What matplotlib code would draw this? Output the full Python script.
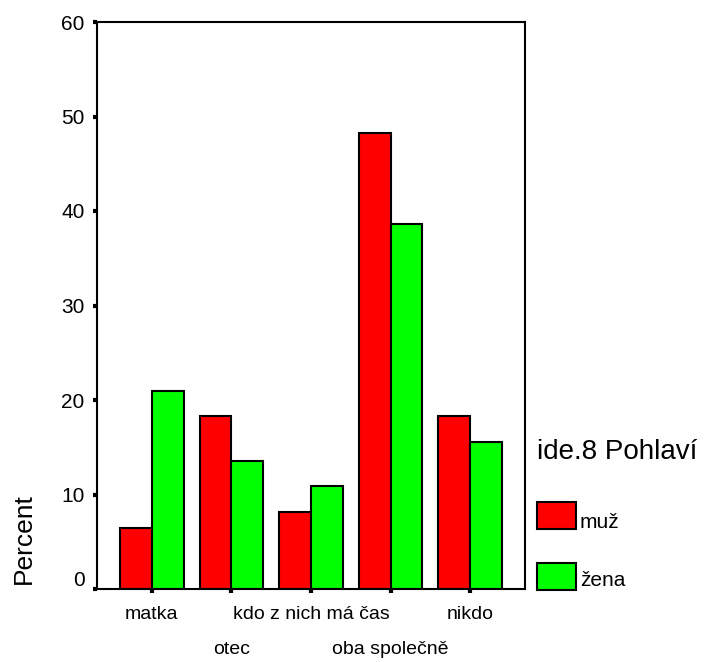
import numpy as np
import matplotlib
matplotlib.use("Agg")
import matplotlib.pyplot as plt
from matplotlib.patches import Rectangle
from matplotlib.transforms import ScaledTranslation

plt.rcParams['font.family'] = ['Liberation Sans', 'DejaVu Sans']

# data
categories = ["matka", "otec", "kdo z nich má čas", "oba společně", "nikdo"]
muz = [6.5, 18.3, 8.2, 48.3, 18.3]
zena = [21.0, 13.5, 10.9, 38.6, 15.6]
series_names = ["muž", "žena"]
series_colors = ["#ff0000", "#00ff00"]
legend_title = "ide.8 Pohlaví"
y_ticks = [0, 10, 20, 30, 40, 50, 60]

W, H = 706, 662
fig = plt.figure(figsize=(W / 100, H / 100), dpi=100)
ax = fig.add_axes([97 / W, 1 - 589 / H, (525 - 97) / W, (589 - 22) / H])

x = np.arange(len(categories))
w = 0.40
ax.bar(x - w, muz, width=w, align='edge', color=series_colors[0], edgecolor='black', linewidth=1.5)
ax.bar(x, zena, width=w, align='edge', color=series_colors[1], edgecolor='black', linewidth=1.5)

ax.set_xlim(-0.69, len(categories) - 1 + 0.69)
ax.set_ylim(0, 60)
ax.set_yticks(y_ticks)
ax.set_yticklabels([str(v) for v in y_ticks], fontsize=15)
ax.set_xticks(x)
ax.set_xticklabels(categories, fontsize=14)

for s in ax.spines.values():
    s.set_linewidth(1.5)
ax.tick_params(axis='both', direction='out', length=3, width=3, color='black')
ax.tick_params(axis='y', pad=6)
ax.tick_params(axis='x', pad=9.5)

# every second category label goes on a second row (offsets in pixels / dpi)
for i, lab in enumerate(ax.get_xticklabels()):
    if i % 2 == 1:
        lab.set_transform(lab.get_transform() + ScaledTranslation(0, -35 / 100, fig.dpi_scale_trans))

# lift the "0" label a little like the original
lab0 = ax.get_yticklabels()[0]
lab0.set_transform(lab0.get_transform() + ScaledTranslation(0, 10 / 100, fig.dpi_scale_trans))

fig.text(24 / W, 1 - 539 / H, "Percent", rotation=90, fontsize=19, ha='center', va='center')

# legend, drawn by hand at the spot of the original
fig.text(537 / W, 1 - 459 / H, legend_title, fontsize=20, ha='left', va='baseline')
box_tops = [502, 563]
text_base = [528, 586]
for name, col, top, base in zip(series_names, series_colors, box_tops, text_base):
    fig.add_artist(Rectangle((537 / W, 1 - (top + 27) / H), 39 / W, 27 / H,
                             transform=fig.transFigure, facecolor=col,
                             edgecolor='black', linewidth=1.5))
    fig.text(580 / W, 1 - base / H, name, fontsize=15, ha='left', va='baseline')

fig.savefig("out.png", dpi=100)
